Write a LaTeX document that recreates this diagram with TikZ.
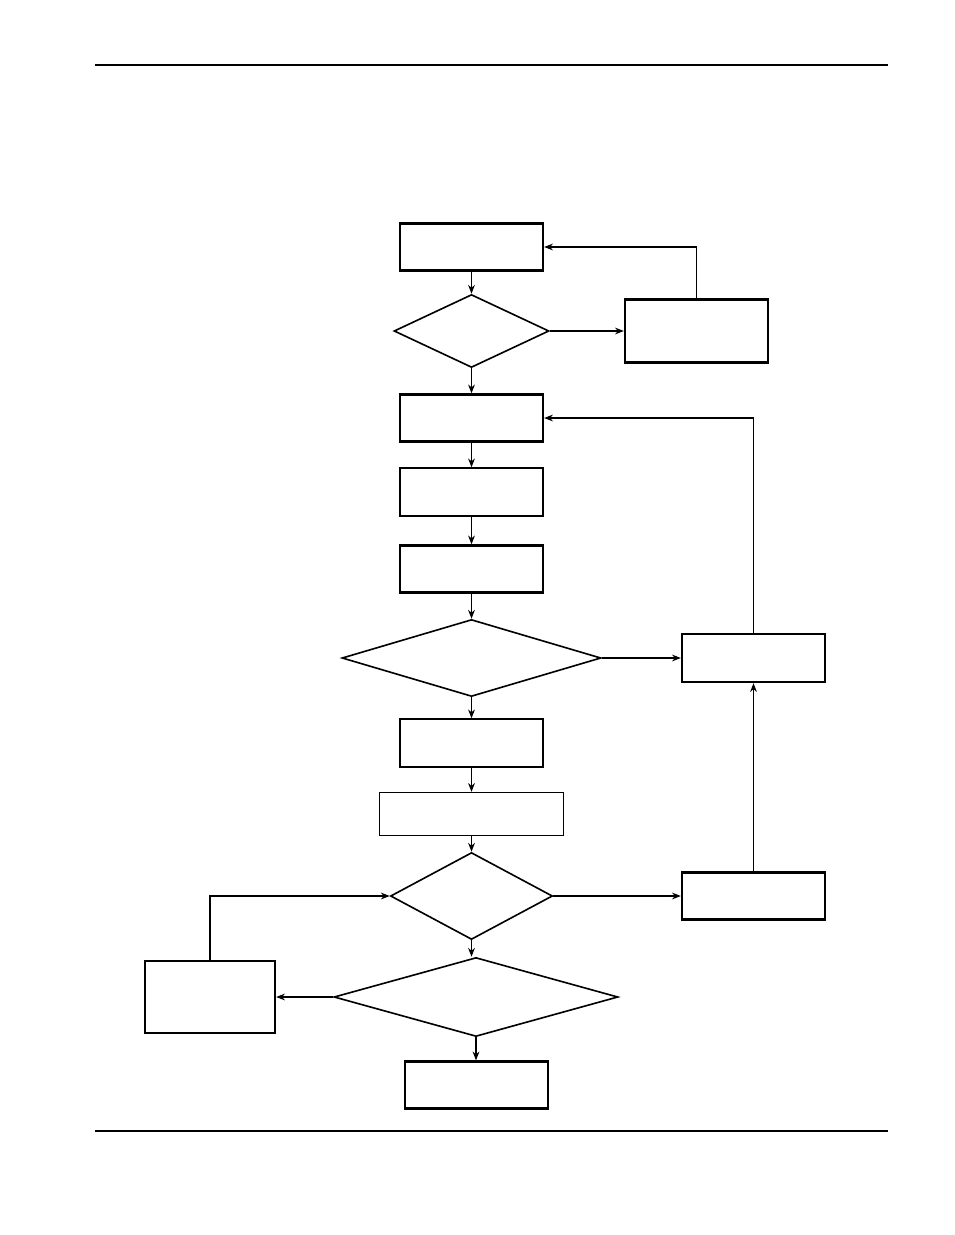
\documentclass[tikz,border=0pt]{standalone}
\usepackage{tikz}
\usetikzlibrary{arrows.meta,shapes.geometric}
\tikzset{
  >={Stealth[length=2.2mm,width=1.7mm]},
  sz/.style 2 args={minimum width=#1*0.025cm,minimum height=#2*0.025cm},
  box/.style={rectangle,draw,line width=1.7pt,inner sep=0pt},
  tbox/.style={rectangle,draw,line width=1.05pt,inner sep=0pt},
  dec/.style={diamond,draw,line width=1.15pt,inner sep=0pt},
  rule/.style={line width=1.4pt},
  every picture/.style={line width=0.75pt},
}
\begin{document}
\begin{tikzpicture}[x=0.025cm,y=-0.025cm]
\useasboundingbox (0,0) rectangle (954,1235);
\draw[rule] (95,65) -- (888,65); \draw[rule] (95,1131) -- (888,1131);
\node[box,sz={143}{47}] (b1) at (471.5,247){}; \node[dec,sz={155}{73}] (d1) at (471.5,331){};
\node[box,sz={143}{63}] (r1) at (696.5,331){};
\node[box,sz={143}{47}] (b2) at (471.5,418){}; \node[tbox,sz={143}{48}] (b3) at (471.5,492){};
\node[box,sz={143}{47}] (b4) at (471.5,569){}; \node[dec,sz={259}{77}] (d2) at (471.5,658){};
\node[box,sz={143}{48}] (r2) at (753.5,658){};
\node[tbox,sz={143}{48}] (b5) at (471.5,743){}; \node[tbox,line width=0.95pt,sz={184}{43}] (b6) at (471.5,814){};
\node[dec,sz={162}{87}] (d3) at (471.5,896){}; \node[box,sz={143}{47}] (r3) at (753.5,896){};
\node[dec,sz={284}{79}] (d4) at (476,997){}; \node[box,sz={130}{72}] (r4) at (210,997){};
\node[box,sz={143}{47}] (b7) at (476.5,1085){};
\draw[->] (b1)--(d1); \draw[->] (d1)--(r1); \draw[->] (r1.north) |- (b1.east);
\draw[->] (d1)--(b2); \draw[->] (b2)--(b3); \draw[->] (b3)--(b4); \draw[->] (b4)--(d2);
\draw[->] (d2)--(r2); \draw[->] (r2.north) |- (b2.east); \draw[->] (d2)--(b5);
\draw[->] (b5)--(b6); \draw[->] (b6)--(d3); \draw[->] (d3)--(r3); \draw[->] (r3)--(r2);
\draw[->] (d3.south) -- (d3.south |- d4.north); \draw[->] (d4)--(r4);
\draw[->] (r4.north) |- (d3.west); \draw[->] (d4.south) -- (d4.south |- b7.north);
\end{tikzpicture}
\end{document}
